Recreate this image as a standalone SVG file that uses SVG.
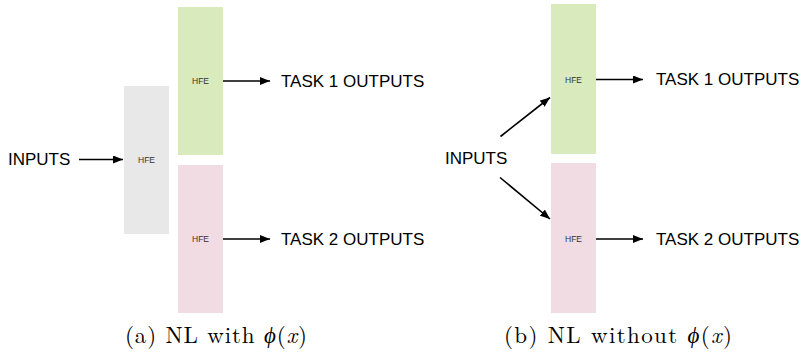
<svg xmlns="http://www.w3.org/2000/svg" width="800" height="352" viewBox="0 0 800 352">
<style>
.lbl{font-family:"Liberation Sans",Arial,sans-serif;font-size:17px;fill:#000;dominant-baseline:central}
.hfe{font-family:"Liberation Sans",Arial,sans-serif;font-size:8.5px;fill:#333;text-anchor:middle;dominant-baseline:central}
.cap{font-family:"Latin Modern Roman","Liberation Serif","Times New Roman",serif;font-size:23px;fill:#000;text-anchor:middle}
.gray{fill:#e8e8e8}.green{fill:#d9eabc}.pink{fill:#f2dce4}
.conn line{stroke:#000;stroke-width:1.6;marker-end:url(#ah)}
</style>
<defs>
<marker id="ah" viewBox="0 0 10 8" refX="10" refY="4" markerWidth="10" markerHeight="8" markerUnits="userSpaceOnUse" orient="auto">
<path d="M0,0 L10,4 L0,8 Z" fill="#000"/>
</marker>
</defs>
<!-- panel a -->
<g id="a-inputs"><text class="lbl" x="8" y="159">INPUTS</text></g>
<g id="a-shared"><rect class="gray" x="124" y="86" width="45" height="148"/><text class="hfe" x="146.5" y="160">HFE</text></g>
<g id="a-task1"><rect class="green" x="178" y="7" width="45" height="148"/><text class="hfe" x="200.5" y="81">HFE</text></g>
<g id="a-task2"><rect class="pink" x="178" y="165" width="45" height="148"/><text class="hfe" x="200.5" y="239">HFE</text></g>
<g id="a-out1"><text class="lbl" x="281" y="81">TASK 1 OUTPUTS</text></g>
<g id="a-out2"><text class="lbl" x="281" y="239">TASK 2 OUTPUTS</text></g>
<g id="a-connectors" class="conn">
<line x1="79" y1="159.5" x2="123" y2="159.5"/>
<line x1="223" y1="81" x2="270" y2="81"/>
<line x1="223" y1="239" x2="270" y2="239"/>
</g>
<text class="cap" x="216" y="343" textLength="182" lengthAdjust="spacing">(a) NL with <tspan font-style="italic">ϕ</tspan>(<tspan font-style="italic">x</tspan>)</text>
<!-- panel b -->
<g id="b-inputs"><text class="lbl" x="445" y="158">INPUTS</text></g>
<g id="b-task1"><rect class="green" x="551" y="4" width="45" height="150"/><text class="hfe" x="573.5" y="79.5">HFE</text></g>
<g id="b-task2"><rect class="pink" x="551" y="163" width="45" height="150"/><text class="hfe" x="573.5" y="239">HFE</text></g>
<g id="b-out1"><text class="lbl" x="656" y="79.5">TASK 1 OUTPUTS</text></g>
<g id="b-out2"><text class="lbl" x="656" y="239">TASK 2 OUTPUTS</text></g>
<g id="b-connectors" class="conn">
<line x1="500.5" y1="136.5" x2="550" y2="97.5"/>
<line x1="500" y1="177.5" x2="550" y2="219"/>
<line x1="596" y1="79.5" x2="643" y2="79.5"/>
<line x1="596" y1="239" x2="643" y2="239"/>
</g>
<text class="cap" x="618" y="343" textLength="228" lengthAdjust="spacing">(b) NL without <tspan font-style="italic">ϕ</tspan>(<tspan font-style="italic">x</tspan>)</text>
</svg>
